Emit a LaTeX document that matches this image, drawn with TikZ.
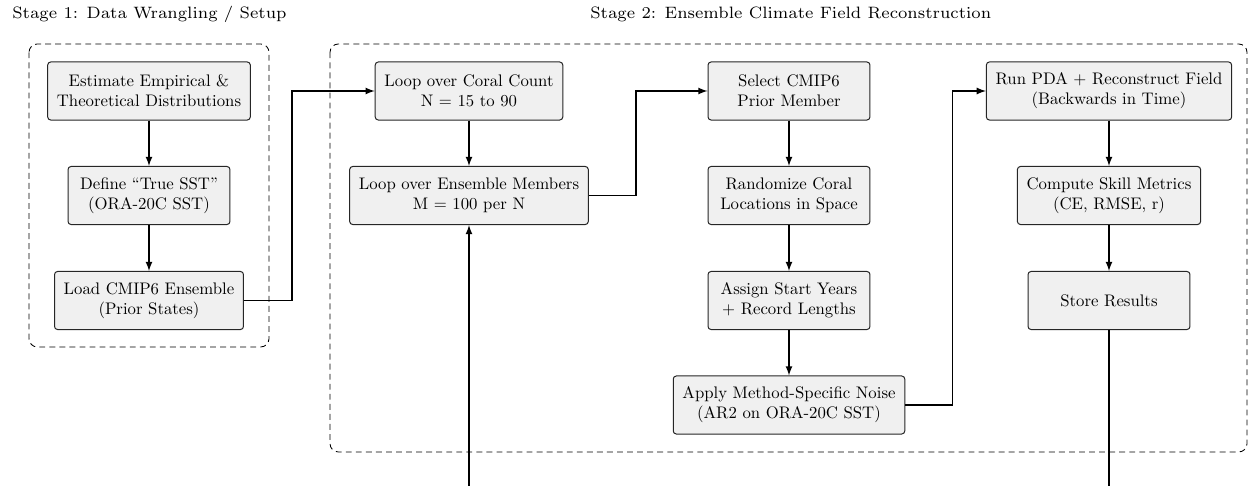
\documentclass[tikz,border=0pt]{standalone}
\usepackage{amssymb}
\usepackage{amsmath}
\usepackage{tikz}
\usetikzlibrary{shapes}
\font\stagefont=cmr7 at 9.85pt

\begin{document}
\begin{tikzpicture}[x=0.021cm,y=-0.021cm,
  task/.style={rectangle,rounded corners=1.8pt,draw=black!85,line width=0.6pt,fill=black!6,align=center,minimum width=3.4cm,minimum height=1.218cm,inner xsep=5.5pt},
  stagebox/.style={draw=black,line width=0.5pt,dash pattern=on 3.5pt off 2.5pt,rounded corners=5pt},
  stagetitle/.style={inner sep=0,font=\stagefont},
  flow/.style={line width=0.9pt,-latex}]
\useasboundingbox (0,0) rectangle (1250,486);
\clip (0,0) rectangle (1250,486);
%Stage Frames
\draw [stagebox] (29,44) rectangle (269,347);
\draw [stagebox] (330,44) rectangle (1247,452);
%Stage Titles
\node at (12,14) [stagetitle,anchor=west] (Title1) {Stage 1: Data Wrangling / Setup};
\node at (791,14) [stagetitle] (Title2) {Stage 2: Ensemble Climate Field Reconstruction};

%Node Coordinates
\node at (149,91) [task] (Estimate) {Estimate Empirical \&\\Theoretical Distributions};
\node at (149,195.5) [task] (TrueSST) {Define ``True SST''\\(ORA-20C SST)};
\node at (149,300.5) [task] (LoadPrior) {Load CMIP6 Ensemble\\(Prior States)};
\node at (469,91) [task] (CoralLoop) {Loop over Coral Count\\N = 15 to 90};
\node at (469,195.5) [task] (EnsLoop) {Loop over Ensemble Members\\M = 100 per N};
\node at (789,91) [task] (SelectPrior) {Select CMIP6\\Prior Member};
\node at (789,195.5) [task] (Randomize) {Randomize Coral\\Locations in Space};
\node at (789,300.5) [task] (AssignYears) {Assign Start Years\\+ Record Lengths};
\node at (789,405) [task] (ApplyNoise) {Apply Method-Specific Noise\\(AR2 on ORA-20C SST)};
\node at (1109,91) [task] (RunPDA) {Run PDA + Reconstruct Field\\(Backwards in Time)};
\node at (1109,195.5) [task] (SkillMetrics) {Compute Skill Metrics\\(CE, RMSE, r)};
\node at (1109,300.5) [task] (StoreResults) {Store Results};

%Connections
\draw [flow] (Estimate) -- (TrueSST);
\draw [flow] (TrueSST) -- (LoadPrior);
\draw [flow] (LoadPrior.east) -- ++(48,0) |- (CoralLoop.west);
\draw [flow] (CoralLoop) -- (EnsLoop);
\draw [flow] (EnsLoop.east) -- ++(47,0) |- (SelectPrior.west);
\draw [flow] (SelectPrior) -- (Randomize);
\draw [flow] (Randomize) -- (AssignYears);
\draw [flow] (AssignYears) -- (ApplyNoise);
\draw [flow] (ApplyNoise.east) -- ++(47,0) |- (RunPDA.west);
\draw [flow] (RunPDA) -- (SkillMetrics);
\draw [flow] (SkillMetrics) -- (StoreResults);
\draw [flow] (StoreResults.south) -- ++(0,190) -| (EnsLoop.south);
\end{tikzpicture}
\end{document}
